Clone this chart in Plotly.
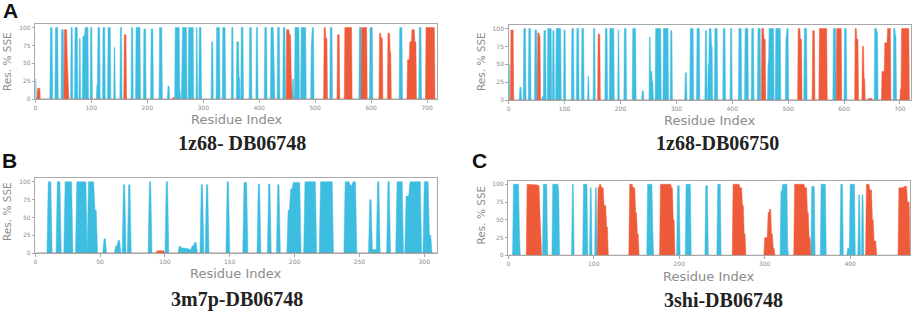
import numpy as np
import plotly.graph_objects as go

# ---- data: (start residue, end residue, % SSE) ----
A1_LEN = 718
A1_STRAND = [(0,1,28),(27,30,100),(36,40,100),(47,50,97),(64,66,100),(71,75,100),(79,80,85),(85,88,88),(89,94,100),
             (99,101,100),(110,111,20),(112,115,100),(121,124,100),(130,134,100),(141,142,72),(152,154,100),(172,174,100),
             (180,187,100),(194,197,98),(207,210,98),(222,226,100),(237,239,18),(250,257,100),(258,258,15),(262,270,100),
             (274,282,100),(288,289,100),(293,296,100),(315,317,80),(324,329,100),(335,339,100),(351,353,100),(360,363,80),
             (364,365,30),(368,371,100),(383,386,100),(395,397,100),(410,413,100),(421,425,100),(426,426,75),(433,436,100),
             (443,446,100),(460,461,28),(464,471,100),(475,483,100),(493,493,75),(494,497,100),(527,530,100),(579,582,100),
             (598,602,100),(651,655,100),(686,689,100)]
A1_HELIX = [(4,8,15),(52,56,97),(57,57,60),(58,58,30),(159,162,90),(246,248,2),(449,453,97),(454,456,90),(457,457,40),
            (516,518,100),(519,521,85),(540,543,90),(553,565,100),(583,592,100),(615,617,92),(618,620,85),(630,633,92),
            (634,635,65),(665,668,55),(669,672,80),(673,677,97),(678,680,80),(698,713,100)]

A2_LEN = 718
A2_STRAND = [(0,1,50),(20,22,18),(27,30,100),(36,39,100),(47,50,98),(60,62,5),(63,66,97),(70,76,100),(79,81,97),
             (85,93,100),(99,101,98),(113,116,100),(122,125,100),(131,134,100),(142,143,33),(152,154,100),(173,176,100),
             (181,188,100),(196,197,98),(207,210,100),(222,227,100),(239,241,13),(252,253,88),(254,256,40),(257,258,25),
             (263,272,100),(277,285,100),(290,292,97),(316,318,38),(325,330,100),(337,341,100),(352,354,97),(357,358,50),
             (359,362,100),(363,364,75),(369,373,100),(384,387,100),(397,399,100),(412,416,100),(423,428,100),(435,438,100),
             (446,450,100),(464,465,52),(466,474,100),(478,486,100),(496,496,85),(497,500,100),(529,533,100),(581,585,100),
             (601,604,100),(655,658,100),(659,660,95),(689,691,100),(692,693,90)]
A2_HELIX = [(4,8,98),(52,54,94),(55,56,90),(160,163,92),(453,456,100),(457,459,85),(518,521,100),(522,524,85),
            (544,547,97),(556,569,100),(587,595,100),(620,622,100),(623,625,85),(633,635,75),(636,637,30),(643,650,2),
            (668,672,40),(673,677,80),(678,683,100),(701,702,15),(703,716,100)]

B_LEN = 310
B_STRAND = [(10,12,100),(17,19,100),(23,28,100),(32,39,100),(41,45,100),(46,47,60),(53,54,20),(62,63,10),(64,65,18),
            (68,69,96),(72,73,96),(88,89,100),(101,102,100),(111,112,9),(113,115,7),(116,118,6),(119,120,5),(121,122,10),
            (123,124,15),(128,129,96),(132,133,96),(148,149,100),(161,163,99),(172,173,97),(180,181,97),(187,188,96),
            (195,196,60),(197,198,90),(199,204,99),(208,216,100),(220,229,100),(239,242,100),(243,244,95),(245,247,100),
            (258,259,75),(260,263,5),(264,265,100),(272,273,100),(279,283,100),(286,288,80),(289,297,100),(300,303,100),
            (304,305,25)]
B_HELIX = [(94,99,3),(154,159,1)]

C_LEN = 470
C_STRAND = [(6,12,100),(13,13,35),(41,45,100),(52,58,100),(59,59,90),(75,76,100),(88,92,100),(96,97,95),(102,103,95),
            (163,168,100),(169,169,40),(198,200,98),(208,213,100),(231,233,98),(245,248,100),(319,320,90),(321,326,100),
            (327,327,10),(355,358,97),(366,371,100),(389,391,100),(397,399,10),(400,405,100),(410,411,85),(414,415,85)]
C_HELIX = [(22,24,100),(25,34,99),(35,36,98),(37,37,60),(38,38,30),(105,106,95),(107,108,100),(109,111,95),(112,114,70),
           (115,116,40),(142,145,100),(146,148,95),(149,150,60),(151,152,30),(178,190,100),(191,192,95),(193,194,50),
           (263,270,100),(271,273,95),(274,275,70),(276,277,30),(300,303,25),(304,305,60),(306,307,65),(308,309,30),
           (310,311,10),(335,346,100),(347,349,95),(350,351,60),(352,353,25),(419,422,100),(423,425,92),(426,427,50),
           (428,430,20),(457,462,95),(463,466,97),(467,469,75)]

CAPTIONS = ["1z68- DB06748", "1z68-DB06750", "3m7p-DB06748", "3shi-DB06748"]
PANEL_LETTERS = ["A", "B", "C"]
Y_TICKS = [0, 25, 50, 75, 100]

BLUE = "#3DBDE0"
ORANGE = "#EE5B3B"
W, H = 913, 312


def profile(n, segs):
    v = np.zeros(n + 1)
    for s, e, h in segs:
        v[s:e + 1] = h
    return v


panels = [
    dict(n=A1_LEN, strand=A1_STRAND, helix=A1_HELIX, px=(35.3, 437.2), py=(24, 99), xr=718, xt=list(range(0, 701, 100)),
         ylab=(7.5, 61.5), xlab=(236.5, 119), cap=(242, 142.7)),
    dict(n=A2_LEN, strand=A2_STRAND, helix=A2_HELIX, px=(508.7, 910.5), py=(25, 100), xr=719, xt=list(range(0, 701, 100)),
         ylab=(481, 62), xlab=(709.7, 120.7), cap=(717, 143)),
    dict(n=B_LEN, strand=B_STRAND, helix=B_HELIX, px=(35.3, 437.2), py=(178.3, 253), xr=310, xt=list(range(0, 301, 50)),
         ylab=(7, 212), xlab=(236, 273.3), cap=(237, 299.3)),
    dict(n=C_LEN, strand=C_STRAND, helix=C_HELIX, px=(508.3, 910), py=(180.7, 255.3), xr=470, xt=list(range(0, 401, 100)),
         ylab=(480.5, 215), xlab=(709, 276.7), cap=(723, 300)),
]

fig = go.Figure()
annotations = []
for i, p in enumerate(panels):
    k = "" if i == 0 else str(i + 1)
    x = np.arange(p["n"] + 1)
    for segs, col in ((p["strand"], BLUE), (p["helix"], ORANGE)):
        fig.add_trace(go.Scatter(x=x, y=profile(p["n"], segs), mode="lines", fill="tozeroy",
                                 fillcolor=col, line=dict(color=col, width=0.5),
                                 xaxis="x" + k, yaxis="y" + k, showlegend=False, hoverinfo="skip"))
    axcommon = dict(showgrid=False, zeroline=False, showline=True, mirror=True, linecolor="#a8a8a8", linewidth=1,
                    ticks="outside", ticklen=2.5, tickcolor="#a8a8a8", automargin=False,
                    tickfont=dict(family="DejaVu Sans", size=6, color="#8a8a8a"))
    fig.update_layout(**{
        "xaxis" + k: dict(domain=[p["px"][0] / W, p["px"][1] / W], range=[0, p["xr"]], tickvals=p["xt"],
                          anchor="y" + k, **axcommon),
        "yaxis" + k: dict(domain=[1 - p["py"][1] / H, 1 - p["py"][0] / H], range=[0, 105], tickvals=Y_TICKS,
                          anchor="x" + k, **axcommon),
    })
    annotations.append(dict(text="Res. % SSE", x=p["ylab"][0] / W, y=1 - p["ylab"][1] / H, textangle=-90,
                            font=dict(family="DejaVu Sans", size=10.5, color="#8c8c8c")))
    annotations.append(dict(text="Residue Index", x=p["xlab"][0] / W, y=1 - p["xlab"][1] / H,
                            font=dict(family="DejaVu Sans", size=13, color="#8c8c8c")))
    annotations.append(dict(text="<b>%s</b>" % CAPTIONS[i], x=p["cap"][0] / W, y=1 - p["cap"][1] / H,
                            font=dict(family="Liberation Serif", size=20, color="#222222")))

for letter, (lx, ly) in zip(PANEL_LETTERS, [(10.5, 11), (9.5, 160), (479, 160)]):
    annotations.append(dict(text="<b>%s</b>" % letter, x=lx / W, y=1 - ly / H,
                            font=dict(family="Liberation Sans", size=21, color="#111111")))

for a in annotations:
    a.update(xref="paper", yref="paper", xanchor="center", yanchor="middle", showarrow=False)

fig.update_layout(width=W, height=H, margin=dict(l=0, r=0, t=0, b=0), paper_bgcolor="white",
                  plot_bgcolor="white", annotations=annotations)
fig.write_html("out.html", config={"displayModeBar": False, "staticPlot": True},
               post_script="document.body.style.margin='0';document.body.style.overflow='hidden';")
